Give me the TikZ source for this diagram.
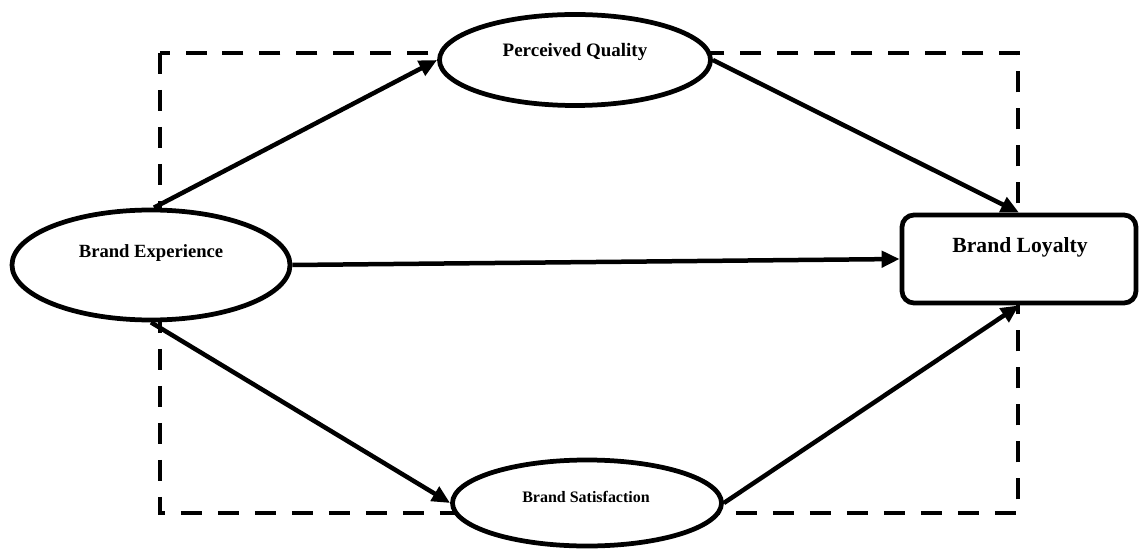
\documentclass[tikz,border=0pt]{standalone}
\usepackage{fontspec}
\setmainfont{Liberation Serif}
\usetikzlibrary{shapes.geometric,arrows.meta}
\begin{document}
\begin{tikzpicture}[x=0.02cm,y=-0.02cm,
  thick line/.style={line width=0.095cm},
  oval/.style={ellipse,draw,thick line,fill=white,inner sep=0pt},
  lbl/.style={font=\bfseries,inner sep=0pt},
  conn/.style={line width=0.09cm,-{Triangle[length=0.36cm,width=0.32cm]}},
  frame/.style={line width=0.09cm,dash pattern=on 0.42cm off 0.32cm}]
\useasboundingbox (0,0) rectangle (1141,550);
\draw[frame] (160,53) rectangle (1018,513);
\node[oval,minimum width=278*0.02cm,minimum height=110*0.02cm] (be) at (151,265) {};
\node[lbl,font=\bfseries\fontsize{10.6}{12}\selectfont] (bet) at (151,253) {Brand Experience};
\node[oval,minimum width=271*0.02cm,minimum height=91*0.02cm] (pq) at (575,60) {};
\node[lbl,font=\bfseries\fontsize{10.8}{12}\selectfont] (pqt) at (575,52) {Perceived Quality};
\node[oval,minimum width=269*0.02cm,minimum height=86*0.02cm] (bs) at (587,503) {};
\node[lbl,font=\bfseries\fontsize{9.1}{10}\selectfont] (bst) at (586,497) {Brand Satisfaction};
\node[draw,thick line,fill=white,rounded corners=0.24cm,minimum width=234*0.02cm,minimum height=88*0.02cm] (bl) at (1019,259) {};
\node[lbl,font=\bfseries\fontsize{12.3}{14}\selectfont] (blt) at (1020,247) {Brand Loyalty};
\draw[conn] (be.87) -- (pq.west);
\draw[conn] (pq.east) -- (bl.north);
\draw[conn] (be.east) -- (bl.west);
\draw[conn] (be.south) -- (bs.west);
\draw[conn] (bs.east) -- (bl.south);
\end{tikzpicture}
\end{document}
